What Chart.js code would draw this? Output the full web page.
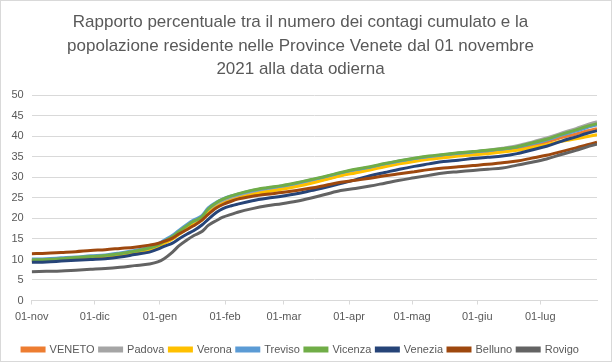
<!DOCTYPE html>
<html>
<head>
<meta charset="utf-8">
<script src="https://cdn.jsdelivr.net/npm/chart.js@4/dist/chart.umd.min.js"></script>
<style>
  html, body { margin: 0; padding: 0; background: #fff; }
  #wrap { position: relative; width: 612px; height: 362px; }
  #frame { position: absolute; left: 0; top: 0; width: 610px; height: 360px; border: 1px solid #d9d9d9; pointer-events: none; }
</style>
</head>
<body>
<div id="wrap">
  <canvas id="c" width="612" height="362"></canvas>
  <div id="frame"></div>
</div>
<script>
// Day offsets from 01-nov-2021
const days = [0,7,14,21,28,35,42,49,56,60,63,67,70,74,77,81,84,88,91,95,98,105,112,119,126,133,140,147,154,161,168,175,182,189,196,203,210,217,224,231,238,245,252,259,264,269];

const tickDays = [0,30,61,92,120,151,181,212,242];
const tickLabels = ['01-nov','01-dic','01-gen','01-feb','01-mar','01-apr','01-mag','01-giu','01-lug'];

const seriesNames = ['VENETO','Padova','Verona','Treviso','Vicenza','Venezia','Belluno','Rovigo'];
const seriesColors = ['#ED7D31','#A5A5A5','#FFC000','#5B9BD5','#70AD47','#264478','#9E480E','#636363'];

const veneto  = [9.8,9.9,10.1,10.4,10.6,10.9,11.3,11.8,12.6, 13.3,14.1,15.2,16.4,17.8,18.8,19.9,21.6,23.1,23.9,24.7,25.2, 26.1,26.7,27.3,28.0,28.8,29.6,30.5,31.3,32.0,32.8,33.5,34.1,34.6,35.0,35.4,35.7,36.0,36.4,36.9,37.7,38.6,39.7,40.6, 41.3,41.9];
const padova  = [9.8,9.9,10.1,10.4,10.6,10.9,11.3,11.9,12.7, 13.4,14.3,15.4,16.6,18.1,19.1,20.2,22.0,23.5,24.3,25.1,25.6, 26.5,27.1,27.6,28.3,29.1,29.9,30.8,31.6,32.3,33.1,33.8,34.5,35.0,35.5,35.9,36.2,36.6,37.1,37.7,38.6,39.6,40.8,41.9, 42.8,43.6];
const verona  = [9.6,9.7,9.9,10.2,10.4,10.7,11.1,11.6,12.4, 13.1,13.9,15.0,16.1,17.5,18.5,19.6,21.3,22.8,23.6,24.4,24.9, 25.8,26.5,27.1,27.8,28.6,29.5,30.4,31.1,31.8,32.6,33.3,33.9,34.4,34.8,35.2,35.5,35.8,36.2,36.6,37.3,38.0,38.8,39.4, 39.9,40.4];
const treviso = [10.1,10.2,10.4,10.6,10.9,11.1,11.6,12.2,13.0, 13.8,14.7,15.9,17.1,18.6,19.6,20.7,22.6,24.0,24.8,25.5,25.9, 26.8,27.4,27.9,28.6,29.4,30.2,31.1,31.9,32.5,33.3,34.0,34.6,35.1,35.5,35.9,36.2,36.5,36.9,37.4,38.2,39.1,40.3,41.3, 42.1,42.8];
const vicenza = [9.9,10.0,10.2,10.5,10.7,11.0,11.4,12.0,12.8, 13.5,14.4,15.6,16.8,18.3,19.3,20.4,22.3,23.9,24.7,25.5,26.0, 26.9,27.5,28.0,28.7,29.5,30.3,31.2,32.0,32.6,33.4,34.1,34.7,35.2,35.6,36.0,36.3,36.6,37.0,37.5,38.4,39.3,40.5,41.6, 42.4,43.1];
const venezia = [9.3,9.4,9.6,9.8,10.0,10.2,10.6,11.2,11.8, 12.5,13.2,14.0,15.0,16.2,17.0,18.4,19.8,21.5,22.4,23.1,23.5, 24.3,24.9,25.4,26.0,26.8,27.6,28.5,29.4,30.4,31.2,32.0,32.7,33.3,33.9,34.2,34.6,34.9,35.2,35.8,36.7,37.6,38.8,39.9, 40.7,41.4];
const belluno = [11.4,11.5,11.7,11.9,12.2,12.4,12.7,13.0,13.5, 13.9,14.4,15.2,16.2,17.3,18.2,19.6,21.0,22.6,23.4,24.2,24.7, 25.4,25.9,26.3,26.8,27.4,28.1,28.8,29.3,29.8,30.4,30.9,31.4,31.9,32.3,32.6,32.9,33.2,33.6,34.0,34.7,35.4,36.3,37.2, 37.9,38.6];
const rovigo  = [7.0,7.1,7.2,7.4,7.6,7.8,8.1,8.5,8.9, 9.4,10.2,11.8,13.3,14.8,15.8,16.8,18.3,19.5,20.3,21.0,21.5, 22.4,23.1,23.6,24.2,25.0,25.9,26.8,27.3,27.9,28.6,29.3,29.9,30.5,31.1,31.4,31.7,32.0,32.3,33.0,33.7,34.5,35.6,36.6, 37.4,38.1];

const yTicks = [0,5,10,15,20,25,30,35,40,45,50];
const titleLines = ['Rapporto percentuale tra il numero dei contagi cumulato e la','popolazione residente nelle Province Venete dal 01 novembre','2021 alla data odierna'];

const allSeries = [veneto, padova, verona, treviso, vicenza, venezia, belluno, rovigo];
const FONT = "'Liberation Sans', Arial, sans-serif";

const datasets = allSeries.map((vals, i) => ({
  label: seriesNames[i],
  data: vals.map((v, k) => ({ x: days[k], y: v })),
  borderColor: seriesColors[i],
  backgroundColor: seriesColors[i],
  borderWidth: 3,
  pointRadius: 0,
  cubicInterpolationMode: 'monotone',
  order: allSeries.length - 1 - i
}));

new Chart(document.getElementById('c'), {
  type: 'line',
  data: { datasets },
  options: {
    responsive: false,
    animation: false,
    layout: { padding: { left: 4, right: 15, top: 0, bottom: -3 } },
    plugins: {
      title: {
        display: true,
        text: titleLines,
        color: '#595959',
        font: { family: FONT, size: 17, weight: 'normal', lineHeight: 1.38 },
        padding: { top: 11, bottom: 14 }
      },
      legend: {
        position: 'bottom',
        labels: {
          color: '#595959',
          font: { family: FONT, size: 11 },
          boxWidth: 22,
          boxHeight: 3,
          padding: 5,
          sort: (a, b) => a.datasetIndex - b.datasetIndex
        }
      },
      tooltip: { enabled: false }
    },
    scales: {
      x: {
        type: 'linear',
        min: 0,
        max: 269,
        afterBuildTicks: (scale) => { scale.ticks = tickDays.map(v => ({ value: v })); },
        afterFit: (scale) => { scale.height = 38.5; },
        ticks: {
          autoSkip: false,
          maxRotation: 0,
          color: '#595959',
          font: { family: FONT, size: 11 },
          padding: 6,
          callback: (v) => tickLabels[tickDays.indexOf(v)]
        },
        grid: { drawOnChartArea: false, drawTicks: true, tickLength: 4, color: '#d9d9d9' },
        border: { color: '#d9d9d9' }
      },
      y: {
        min: 0,
        max: 50,
        afterBuildTicks: (scale) => { scale.ticks = yTicks.map(v => ({ value: v })); },
        afterFit: (scale) => { scale.width = 27.7; },
        ticks: {
          color: '#595959',
          font: { family: FONT, size: 11 },
          padding: 8
        },
        grid: { color: '#d9d9d9', drawTicks: false },
        border: { display: false }
      }
    }
  }
});
</script>
</body>
</html>
